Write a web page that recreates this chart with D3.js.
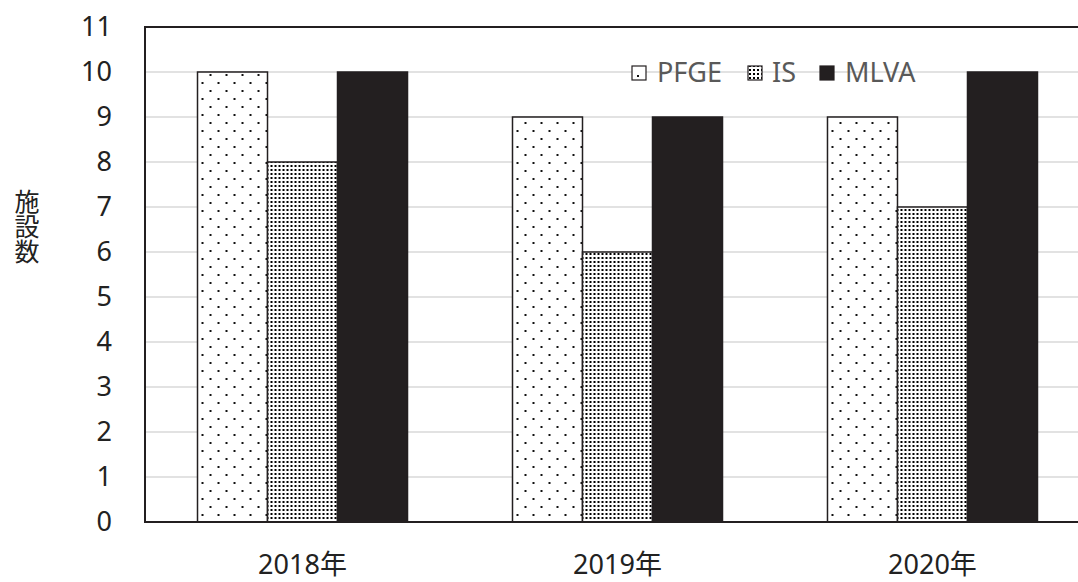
<!DOCTYPE html>
<html>
<head>
<meta charset="utf-8">
<script src="https://cdn.jsdelivr.net/npm/d3@7"></script>
<style>
  body { margin: 0; background: #fff; }
  text { font-family: "Noto Sans", "Noto Sans CJK JP", sans-serif; }
</style>
</head>
<body>
<div id="chart"></div>
<script>
// data
const years = ["2018年", "2019年", "2020年"];
const methods = ["PFGE", "IS", "MLVA"];
const pfge = [10, 9, 9];
const is = [8, 6, 7];
const mlva = [10, 9, 10];
const yTicks = [0, 1, 2, 3, 4, 5, 6, 7, 8, 9, 10, 11];

const width = 1078;
const height = 582;
const margin = { top: 27, left: 145, bottom: 60 };
const plotRight = 1090;  // plot area runs past the window edge
const font = "'Noto Sans', 'Noto Sans CJK JP', sans-serif";

const svg = d3.select("#chart")
    .append("svg")
    .attr("width", width)
    .attr("height", height);

// patterns
const defs = svg.append("defs");
const sparse = defs.append("pattern")
    .attr("id", "pat-pfge")
    .attr("patternUnits", "userSpaceOnUse")
    .attr("width", 16).attr("height", 16);
sparse.append("rect").attr("width", 16).attr("height", 16).attr("fill", "#fff");
sparse.append("rect").attr("x", 4).attr("y", 2).attr("width", 2).attr("height", 2).attr("fill", "#111");
sparse.append("rect").attr("x", 12).attr("y", 10).attr("width", 2).attr("height", 2).attr("fill", "#111");

const dense = defs.append("pattern")
    .attr("id", "pat-is")
    .attr("patternUnits", "userSpaceOnUse")
    .attr("width", 4).attr("height", 4);
dense.append("rect").attr("width", 4).attr("height", 4).attr("fill", "#fff");
dense.append("rect").attr("x", 1).attr("y", 1).attr("width", 2).attr("height", 2).attr("fill", "#000");

const fills = { PFGE: "url(#pat-pfge)", IS: "url(#pat-is)", MLVA: "#231f20" };

const y = d3.scaleLinear()
    .domain([0, 11])
    .range([height - margin.bottom, margin.top]);

const x0 = d3.scaleBand()
    .domain(years)
    .range([margin.left, plotRight])
    .paddingInner(0.3333)
    .paddingOuter(0.1667);

const x1 = d3.scaleBand()
    .domain(methods)
    .range([0, x0.bandwidth()]);

// gridlines
svg.append("g")
    .selectAll("line")
    .data(yTicks.slice(1))
    .join("line")
    .attr("x1", margin.left)
    .attr("x2", plotRight)
    .attr("y1", d => y(d))
    .attr("y2", d => y(d))
    .attr("stroke", "#d9d9d9")
    .attr("stroke-width", 1.5);

// y labels
const yAxis = svg.append("g")
    .attr("transform", `translate(${margin.left},0)`)
    .call(d3.axisLeft(y).tickValues(yTicks).tickSize(0).tickPadding(33));
yAxis.select(".domain").remove();
yAxis.selectAll("text")
    .style("font-size", "27px")
    .style("font-family", font)
    .attr("fill", "#222");

// bars
const rows = years.map((yr, i) => ({ year: yr, PFGE: pfge[i], IS: is[i], MLVA: mlva[i] }));

svg.append("g")
    .selectAll("g")
    .data(rows)
    .join("g")
    .attr("transform", d => `translate(${x0(d.year)},0)`)
    .selectAll("rect")
    .data(d => methods.map(m => ({ key: m, value: d[m] })))
    .join("rect")
    .attr("x", d => x1(d.key))
    .attr("y", d => y(d.value))
    .attr("width", x1.bandwidth())
    .attr("height", d => y(0) - y(d.value))
    .attr("fill", d => fills[d.key])
    .attr("stroke", "#231f20")
    .attr("stroke-width", 1.5);

// plot border
svg.append("path")
    .attr("d", `M${plotRight},${y(11)}H${margin.left}V${y(0)}H${plotRight}`)
    .attr("fill", "none")
    .attr("stroke", "#231f20")
    .attr("stroke-width", 2);

// x labels
const xAxis = svg.append("g")
    .attr("transform", `translate(0,${y(0)})`)
    .call(d3.axisBottom(x0).tickSize(0).tickPadding(33));
xAxis.select(".domain").remove();
xAxis.selectAll("text")
    .style("font-size", "27px")
    .style("font-family", font)
    .attr("fill", "#222");

// y title, vertical
svg.append("text")
    .attr("x", 27)
    .attr("y", 189)
    .style("writing-mode", "vertical-rl")
    .style("text-orientation", "upright")
    .style("font-family", "'Noto Sans CJK JP', sans-serif")
    .style("font-size", "25px")
    .attr("fill", "#222")
    .text("施設数");

// legend
const legendX = [632, 748, 820];
const legend = svg.append("g")
    .selectAll("g")
    .data(methods)
    .join("g")
    .attr("transform", (d, i) => `translate(${legendX[i]},${y(10)})`);

legend.append("rect")
    .attr("x", 0)
    .attr("y", -6)
    .attr("width", 14)
    .attr("height", 14)
    .attr("fill", d => d === "PFGE" ? "#fff" : fills[d])
    .attr("stroke", "#231f20")
    .attr("stroke-width", 1.2);

legend.filter(d => d === "PFGE")
    .append("rect")
    .attr("x", 5).attr("y", 3).attr("width", 2).attr("height", 2)
    .attr("fill", "#111");

legend.append("text")
    .attr("x", d => d === "IS" ? 24 : 25)
    .attr("y", 1)
    .attr("dy", "0.35em")
    .style("font-size", "27px")
    .style("font-family", font)
    .attr("fill", "#595959")
    .text(d => d);
</script>
</body>
</html>
